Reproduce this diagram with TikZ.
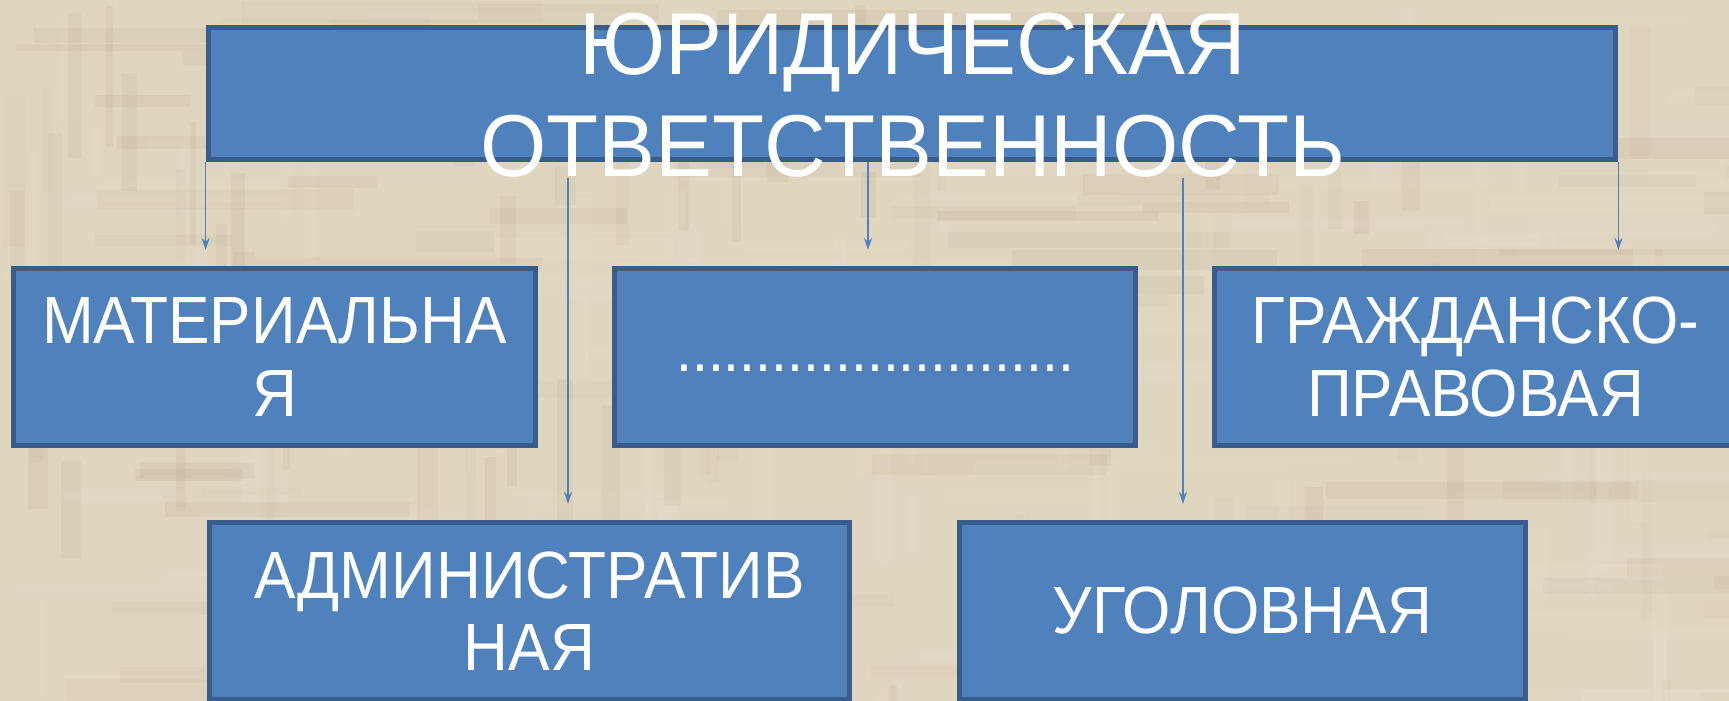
\documentclass[tikz,border=0pt]{standalone}
\usepackage{fontspec}
\setmainfont{Liberation Sans}
\newfontfamily\titlefont[FakeStretch=0.97]{Liberation Sans}
\newfontfamily\boxfont[FakeStretch=0.93]{Liberation Sans}
\usetikzlibrary{arrows.meta,calc}
\definecolor{boxfill}{RGB}{79,129,189}
\definecolor{boxline}{RGB}{56,93,138}
\definecolor{linen}{RGB}{224,213,191}
\definecolor{linendark}{RGB}{150,130,100}
\definecolor{linenlight}{RGB}{245,237,218}

\begin{document}
\begin{tikzpicture}[x=0.01cm, y=-0.01cm,
  kind/.style={rectangle, draw=boxline, fill=boxfill, line width=0.05cm, inner sep=0pt,
    minimum height=1.77cm, text=white, align=center,
    font=\boxfont\fontsize{19}{20.5}\selectfont},
  arr/.style={-{Stealth[length=0.12cm, width=0.08cm]}, draw=boxfill, line width=0.016cm,
    shorten >=0.16cm}
]
\useasboundingbox (0,0) rectangle (1729,701);
\clip (0,0) rectangle (1729,701);
\fill[linen] (0,0) rectangle (1729,701);
\pgfmathsetseed{42}
\foreach \i in {1,...,220}{
  \pgfmathsetmacro\sx{rnd*1729}
  \pgfmathsetmacro\sy{rnd*701}
  \pgfmathsetmacro\sl{60+rnd*260}
  \pgfmathsetmacro\sw{6+rnd*16}
  \pgfmathsetmacro\so{0.03+0.07*rnd}
  \pgfmathsetmacro\sc{rnd}
  \ifdim\sc pt<0.5pt \def\scol{linendark}\else\def\scol{linenlight}\fi
  \fill[\scol, opacity=\so] (\sx,\sy) rectangle ++(\sl,\sw);
  \fill[\scol, opacity=\so] (\sy*2.4,\sx*0.4) rectangle ++(\sw,\sl*0.5);
}

\node[kind, minimum width=14.07cm, minimum height=1.32cm] (top) at (912,93.5) {};
\node[text=white, align=center, inner sep=0pt,
  font=\titlefont\fontsize{25}{29}\selectfont] (title) at (913,95)
  {ЮРИДИЧЕСКАЯ\\ОТВЕТСТВЕННОСТЬ};

\node[kind, minimum width=5.22cm] (mat) at (274.5,357) {МАТЕРИАЛЬНА\\Я};
\node[kind, minimum width=5.21cm] (mid) at (875,357)
  {\fontsize{17.5}{21}\selectfont\strut.........................};
\node[kind, minimum width=5.22cm] (civ) at (1475.5,357) {ГРАЖДАНСКО-\\ПРАВОВАЯ};
\node[kind, minimum width=6.40cm] (adm) at (529.5,611) {АДМИНИСТРАТИВ\\НАЯ};
\node[kind, minimum width=5.66cm] (crim) at (1242.5,611) {УГОЛОВНАЯ};

\coordinate (gapL) at (568,0);
\coordinate (gapM) at (868,0);
\coordinate (gapR) at (1183,0);
\draw[arr] (top.south west) -- (top.south west |- mat.north);
\draw[arr] (gapM |- top.south) -- (gapM |- mid.north);
\draw[arr] (top.south east) -- (top.south east |- civ.north);
\draw[arr] (gapL |- title.south) -- (gapL |- adm.north);
\draw[arr] (gapR |- title.south) -- (gapR |- crim.north);
\end{tikzpicture}
\end{document}
